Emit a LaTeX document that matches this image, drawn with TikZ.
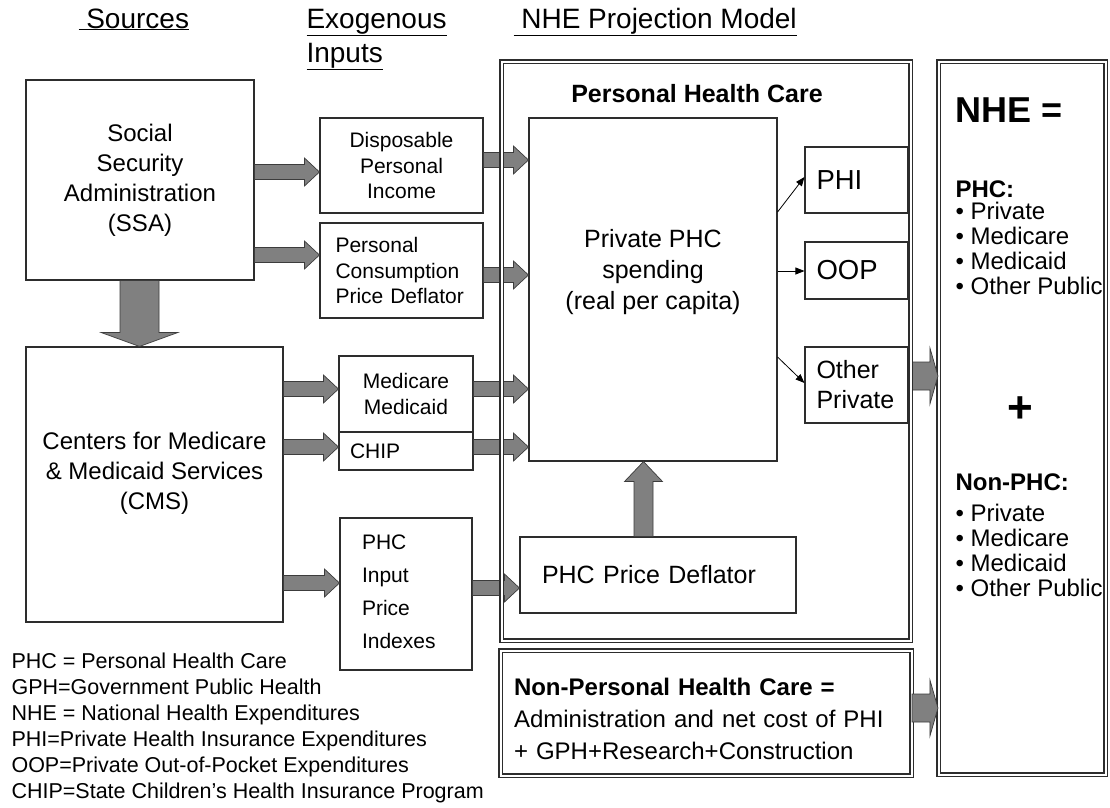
\documentclass[tikz,border=0pt]{standalone}
\usepackage{fontspec}
\setmainfont{Liberation Sans}
\usetikzlibrary{arrows.meta,calc,positioning}

\definecolor{arrowfill}{RGB}{128,128,128}
\definecolor{arrowedge}{RGB}{60,60,60}
\definecolor{boxline}{RGB}{45,45,45}

\newcommand{\fsz}[2]{\fontsize{#1}{#2}\selectfont}

% block arrow: start, end, half shaft, half head, head length
\newcommand{\fatarrow}[5]{%
  \coordinate (fa-s) at (#1);
  \coordinate (fa-e) at (#2);
  \coordinate (fa-h) at ($(fa-e)!#5pt!(fa-s)$);
  \draw[fat] ($(fa-s)!#3pt!90:(fa-e)$) -- ($(fa-h)!#3pt!-90:(fa-s)$)
    -- ($(fa-h)!#4pt!-90:(fa-s)$) -- (fa-e) -- ($(fa-h)!#4pt!90:(fa-s)$)
    -- ($(fa-h)!#3pt!90:(fa-s)$) -- ($(fa-s)!#3pt!-90:(fa-e)$) -- cycle;
}

\tikzset{
  box/.style={draw=boxline, line width=1.1pt, fill=white, inner sep=0pt},
  dbox/.style={draw=boxline, line width=1.1pt, double, double distance=2pt, inner sep=0pt},
  fat/.style={draw=arrowedge, line width=0.7pt, fill=arrowfill, line join=miter},
  pointer/.style={draw=black, line width=0.8pt, -{Triangle[length=9pt,width=7pt]}},
  head/.style={anchor=base west, font=\fsz{28}{34}},
}

\begin{document}
\begin{tikzpicture}[x=1pt, y=-1pt, font=\fsz{21}{25.5}]
\useasboundingbox (0,0) rectangle (1110,807);

% column headings
\node[head] (hsrc) at (75,28) {\underline{\ Sources}};
\node[head] (hexo) at (303,28) {\underline{Exogenous}};
\node[head] (hinp) at (303,62) {\underline{Inputs}};
\node[head] (hmod) at (510,28) {\underline{\ NHE Projection Model}};

% sources
\node[box, minimum width=228, minimum height=200, align=center, font=\fsz{24}{30}] (ssa) at (140,180)
  {Social\\Security\\Administration\\(SSA)};
\node[box, minimum width=257, minimum height=275] (cms) at (154.5,484.5) {};
\node[align=center, font=\fsz{24}{30}] (cms-t) at (154.5,473) {Centers for Medicare\\\& Medicaid Services\\(CMS)};

% exogenous inputs
\node[box, minimum width=163, minimum height=95, align=center] (dpi) at (401.5,165.5) {Disposable\\Personal\\Income};
\node[box, minimum width=163, minimum height=95, text width=132, align=left] (pcpd) at (401.5,270.5)
  {Personal\\Consumption\\Price Deflator};
\node[box, minimum width=134, minimum height=76, align=center] (mcr) at (406,394) {Medicare\\Medicaid};
\node[box, minimum width=134, minimum height=38, text width=112, align=left] (chip) at (406,451) {CHIP};
\node[box, minimum width=132, minimum height=152] (pxi) at (406,594) {};
\node[text width=88, align=left, font=\fsz{21}{33}] (pxi-t) at (406,592) {PHC\\Input\\Price\\Indexes};

% projection model
\node[font=\bfseries\fsz{25}{30}] (tphc) at (697,94) {Personal Health Care};
\node[box, minimum width=248, minimum height=343] (pphc) at (653,289.5) {};
\node[align=center, font=\fsz{25}{31}] (pphc-t) at (653,272) {Private PHC\\spending\\(real per capita)};
\node[box, minimum width=103, minimum height=66, text width=80, align=left, font=\fsz{27.5}{30}] (phi) at (856.5,180) {PHI};
\node[box, minimum width=103, minimum height=57, text width=80, align=left, font=\fsz{27.5}{30}] (oop) at (856.5,270.5) {OOP};
\node[box, minimum width=103, minimum height=76, text width=80, align=left, font=\fsz{25}{30}] (oth) at (856.5,385) {Other\\Private};
\node[box, minimum width=276, minimum height=76, text width=232, align=left, font=\fsz{25}{30}] (phcd) at (658,575) {PHC Price Deflator};

\node[dbox, minimum width=411, minimum height=125] (nphc) at (706,713) {};
\node[text width=384, align=left, font=\fsz{24}{32}] (nphc-t) at (706,719)
  {\textbf{Non-Personal Health Care =}\\Administration and net cost of PHI\\+ GPH+Research+Construction};

% NHE total
\node[dbox, minimum width=167, minimum height=713] (nhe) at (1022,418) {};
\node[anchor=base west, font=\bfseries\fsz{36}{40}] (nhe-t) at (952,122) {NHE =};
\node[anchor=base west, font=\bfseries\fsz{24}{25}] (phc-h) at (952,197) {PHC:};
\foreach \txt [count=\i] in {Private, Medicare, Medicaid, Other Public}
  \node[anchor=base west, font=\fsz{24}{25}] (phc-\i) at (952,194.5+25*\i) {\textbullet\ \txt};
\node[font=\bfseries\fsz{44}{44}] (plus) at (1020,410) {+};
\node[anchor=base west, font=\bfseries\fsz{24}{25}] (non-h) at (952,490) {Non-PHC:};
\foreach \txt [count=\i] in {Private, Medicare, Medicaid, Other Public}
  \node[anchor=base west, font=\fsz{24}{25}] (non-\i) at (952,496.5+25*\i) {\textbullet\ \txt};

% abbreviations
\foreach \txt [count=\i] in {PHC = Personal Health Care, GPH=Government Public Health,
    NHE = National Health Expenditures, PHI=Private Health Insurance Expenditures,
    OOP=Private Out-of-Pocket Expenditures, CHIP=State Children’s Health Insurance Program}
  \node[anchor=base west, font=\fsz{21.5}{26}] (abbr-\i) at (8,642+26*\i) {\txt};

% flows
\fatarrow{ssa.east |- 0,172}{dpi.west |- 0,172}{7.5}{14}{15}
\fatarrow{ssa.east |- 0,255}{pcpd.west |- 0,255}{7.5}{14}{15}
\fatarrow{dpi.east |- 0,160}{pphc.west |- 0,160}{7.5}{14}{15}
\fatarrow{pcpd.east |- 0,275}{pphc.west |- 0,275}{7.5}{14}{15}
\fatarrow{cms.east |- 0,389}{mcr.west |- 0,389}{7.5}{14}{15}
\fatarrow{cms.east |- 0,447}{chip.west |- 0,447}{7.5}{14}{15}
\fatarrow{mcr.east |- 0,389}{pphc.west |- 0,389}{7.5}{14}{15}
\fatarrow{chip.east |- 0,447}{pphc.west |- 0,447}{7.5}{14}{15}
\fatarrow{cms.east |- 0,583}{pxi.west |- 0,583}{7.5}{14}{15}
\fatarrow{pxi.east |- 0,588}{phcd.west |- 0,588}{7.5}{14}{15}
\fatarrow{ssa.south -| 139.5,0}{cms.north -| 139.5,0}{19.5}{38.5}{14}
\fatarrow{phcd.north -| 643.5,0}{pphc.south -| 643.5,0}{9.5}{19}{20}
\fatarrow{oth.east |- 0,376}{nhe.west |- 0,376}{14}{28}{8}
\fatarrow{nphc.east |- 0,708}{nhe.west |- 0,708}{14}{28}{8}

\draw[pointer] (pphc.east |- 0,212) -- (phi.west |- 0,177);
\draw[pointer] (pphc.east |- 0,271) -- (oop.west |- 0,271);
\draw[pointer] (pphc.east |- 0,357) -- (oth.west |- 0,383);

% frame round the projection model
\node[dbox, minimum width=409, minimum height=579] (proj) at (706,351) {};
\end{tikzpicture}
\end{document}
